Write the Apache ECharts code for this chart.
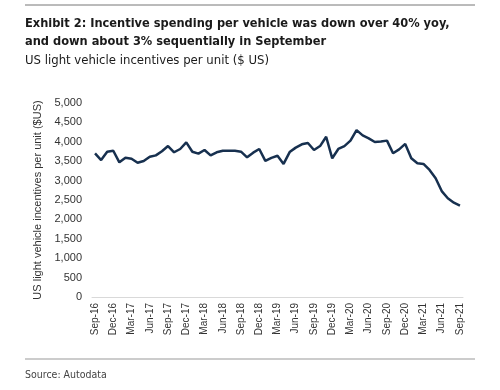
<!DOCTYPE html>
<html>
<head>
<meta charset="utf-8">
<script src="https://cdn.jsdelivr.net/npm/echarts@6/dist/echarts.min.js"></script>
<style>html,body{margin:0;padding:0;background:#fff;}#c{width:500px;height:390px;}</style>
</head>
<body>
<div id="c"></div>
<script>
const months = ['Jan','Feb','Mar','Apr','May','Jun','Jul','Aug','Sep','Oct','Nov','Dec'];
const categories = [];
for (let k = 0; k < 61; k++) {
  const m = (8 + k) % 12;
  const y = 16 + Math.floor((8 + k) / 12);
  categories.push(months[m] + '-' + y);
}
const incentives = [
  3700, 3530, 3745, 3770, 3470, 3590, 3565, 3460, 3505, 3615,
  3650, 3755, 3890, 3730, 3815, 3985, 3745, 3695, 3790, 3650,
  3730, 3770, 3770, 3770, 3745, 3600, 3720, 3815, 3510, 3585,
  3640, 3430, 3735, 3850, 3935, 3970, 3790, 3890, 4130, 3575,
  3815, 3890, 4030, 4300, 4165, 4090, 3995, 4005, 4030, 3705,
  3805, 3945, 3575, 3445, 3430, 3275, 3060, 2730, 2545, 2430,
  2355
];
const yTicks = [0, 500, 1000, 1500, 2000, 2500, 3000, 3500, 4000, 4500, 5000];

const narrow = "'Liberation Sans Narrow', 'DejaVu Sans Condensed', sans-serif";
const chart = echarts.init(document.getElementById('c'));
chart.setOption({
  animation: false,
  backgroundColor: '#fff',
  title: [
    {
      text: 'Exhibit 2: Incentive spending per vehicle was down over 40% yoy,\nand down about 3% sequentially in September',
      left: 25, top: 15, padding: 0,
      textStyle: { fontFamily: narrow, fontWeight: 'bold', fontSize: 12.7, color: '#1a1a1a', lineHeight: 18 }
    },
    {
      text: 'US light vehicle incentives per unit ($ US)',
      left: 25, top: 54, padding: 0,
      textStyle: { fontFamily: narrow, fontWeight: 'normal', fontSize: 13, color: '#1a1a1a' }
    },
    {
      text: 'Source: Autodata',
      left: 25, top: 370, padding: 0,
      textStyle: { fontFamily: narrow, fontWeight: 'normal', fontSize: 10.5, color: '#444' }
    }
  ],
  graphic: [
    { type: 'line', shape: { x1: 25, y1: 5, x2: 475, y2: 5 }, style: { stroke: '#777', lineWidth: 1 } },
    { type: 'line', shape: { x1: 25, y1: 359, x2: 475, y2: 359 }, style: { stroke: '#999', lineWidth: 1 } }
  ],
  grid: { left: 92, right: 37, top: 103, bottom: 93, containLabel: false },
  xAxis: {
    type: 'category',
    data: categories,
    boundaryGap: true,
    axisLine: { lineStyle: { color: '#d9d9d9', width: 1 } },
    axisTick: { show: false },
    axisLabel: {
      interval: 2, rotate: 90, margin: 6,
      fontFamily: "'Liberation Sans', Arial, sans-serif", fontSize: 10, color: '#333'
    }
  },
  yAxis: {
    type: 'value',
    min: 0, max: 5000, interval: 500,
    name: 'US light vehicle incentives per unit ($US)',
    nameLocation: 'middle', nameGap: 41, nameRotate: 90,
    nameTextStyle: { fontFamily: "'Liberation Sans', Arial, sans-serif", fontSize: 11, color: '#333' },
    axisLine: { show: false },
    axisTick: { show: false },
    splitLine: { show: false },
    axisLabel: {
      margin: 10,
      fontFamily: "'Liberation Sans', Arial, sans-serif", fontSize: 11, color: '#333',
      formatter: v => yTicks.includes(v) ? v.toLocaleString('en-US') : ''
    }
  },
  series: [{
    type: 'line',
    data: incentives,
    showSymbol: false,
    lineStyle: { color: '#17304f', width: 2.5 },
    itemStyle: { color: '#17304f' }
  }]
});
</script>
</body>
</html>
